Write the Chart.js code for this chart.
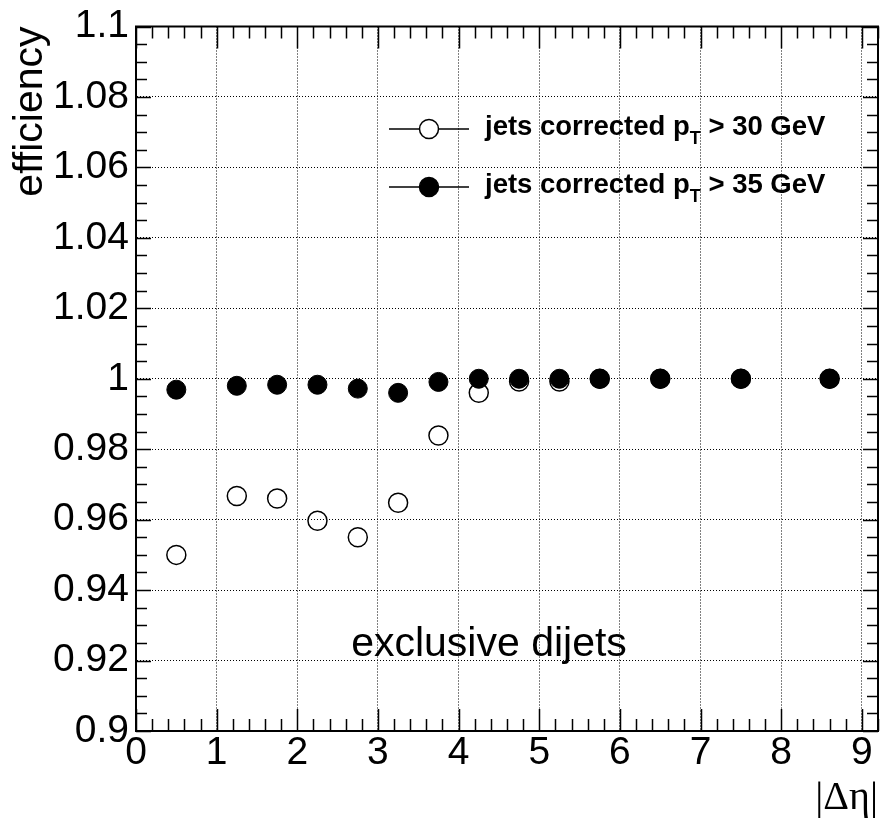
<!DOCTYPE html>
<html>
<head>
<meta charset="utf-8">
<title>Jet efficiency vs |Δη|</title>
<script src="https://cdn.jsdelivr.net/npm/chart.js@4"></script>
<style>
  html, body { margin: 0; padding: 0; background: #fff; }
  #wrap { width: 889px; height: 818px; }
</style>
</head>
<body>
<div id="wrap"><canvas id="myChart" width="889" height="818"></canvas></div>
<script>
// |Δη| bin centres and efficiencies for the two jet pT thresholds
const etaBins = [0.5, 1.25, 1.75, 2.25, 2.75, 3.25, 3.75, 4.25, 4.75, 5.25, 5.75, 6.5, 7.5, 8.6];
const effPt30 = [0.950, 0.9667, 0.966, 0.9597, 0.955, 0.9648, 0.9839, 0.996, 0.9992, 0.9992, 1.0, 1.0, 1.0, 1.0];
const effPt35 = [0.9969, 0.998, 0.9983, 0.9983, 0.9972, 0.996, 0.9991, 1.0, 1.0, 1.0, 1.0, 1.0, 1.0, 1.0];

const seriesLabels = ["jets corrected p", "jets corrected p"];
const seriesSuffix = [" > 30 GeV", " > 35 GeV"];
const xTickValues = [0, 1, 2, 3, 4, 5, 6, 7, 8, 9];
const xRange = [0, 9.2];
const yRange = [0.9, 1.1];
const annotationText = "exclusive dijets";

const SANS = "'Liberation Sans', Arial, Helvetica, sans-serif";
const SERIF = "'Liberation Serif', 'Times New Roman', serif";

function toPoints(values) {
  return etaBins.map((x, i) => ({ x: x, y: values[i] }));
}

// ROOT-style frame: box, inward major/minor ticks on all four sides
const frameTicks = {
  id: "frameTicks",
  afterDraw(chart) {
    const ctx = chart.ctx;
    const { left, right, top, bottom } = chart.chartArea;
    const xs = chart.scales.x;
    const ys = chart.scales.y;
    ctx.save();
    ctx.strokeStyle = "#000";
    ctx.lineWidth = 1.5;
    ctx.beginPath();
    for (let i = 0; i <= 46; i++) {
      const v = i * 0.2;
      if (v > xRange[1] + 1e-9) break;
      const px = Math.round(xs.getPixelForValue(v)) + 0.5;
      const len = i % 5 === 0 ? 22 : 12;
      ctx.moveTo(px, bottom);
      ctx.lineTo(px, bottom - len);
      ctx.moveTo(px, top);
      ctx.lineTo(px, top + len);
    }
    for (let i = 0; i <= 40; i++) {
      const v = yRange[0] + i * 0.005;
      const py = Math.round(ys.getPixelForValue(v)) + 0.5;
      const len = i % 4 === 0 ? 15 : 11;
      ctx.moveTo(left, py);
      ctx.lineTo(left + len, py);
      ctx.moveTo(right, py);
      ctx.lineTo(right - len, py);
    }
    ctx.stroke();
    ctx.lineWidth = 2;
    ctx.strokeRect(left, top, right - left, bottom - top);
    ctx.restore();
  },
};

// legend with subscripted pT, plus the sample label
const legendAndText = {
  id: "legendAndText",
  afterDraw(chart) {
    const ctx = chart.ctx;
    const rows = [129, 187];
    ctx.save();
    rows.forEach((y, i) => {
      ctx.strokeStyle = "#000";
      ctx.lineWidth = 1.5;
      ctx.beginPath();
      ctx.moveTo(389, y);
      ctx.lineTo(469, y);
      ctx.stroke();
      ctx.beginPath();
      ctx.arc(429, y, 9.5, 0, Math.PI * 2);
      ctx.fillStyle = i === 0 ? "#fff" : "#000";
      ctx.fill();
      ctx.stroke();

      ctx.fillStyle = "#000";
      ctx.textBaseline = "alphabetic";
      ctx.textAlign = "left";
      ctx.font = "bold 27.5px " + SANS;
      let x = 485;
      const base = y + 6;
      ctx.fillText(seriesLabels[i], x, base);
      x += ctx.measureText(seriesLabels[i]).width;
      ctx.font = "bold 18px " + SANS;
      ctx.fillText("T", x, base + 9);
      x += ctx.measureText("T").width;
      ctx.font = "bold 27.5px " + SANS;
      ctx.fillText(seriesSuffix[i], x, base);
    });
    ctx.font = "41px " + SANS;
    ctx.textAlign = "center";
    ctx.fillText(annotationText, 489, 656);
    ctx.restore();
  },
};

Chart.defaults.color = "#000";

const ctx = document.getElementById("myChart").getContext("2d");
new Chart(ctx, {
  type: "scatter",
  data: {
    datasets: [
      {
        label: seriesLabels[0] + "T" + seriesSuffix[0],
        data: toPoints(effPt30),
        pointStyle: "circle",
        pointRadius: 9.5,
        pointHoverRadius: 9.5,
        pointBorderWidth: 1.5,
        pointBorderColor: "#000",
        pointBackgroundColor: "rgba(0,0,0,0)",
        showLine: false,
        order: 1,
      },
      {
        label: seriesLabels[1] + "T" + seriesSuffix[1],
        data: toPoints(effPt35),
        pointStyle: "circle",
        pointRadius: 9.5,
        pointHoverRadius: 9.5,
        pointBorderWidth: 1,
        pointBorderColor: "#000",
        pointBackgroundColor: "#000",
        showLine: false,
        order: 0,
      },
    ],
  },
  options: {
    responsive: false,
    animation: false,
    devicePixelRatio: 1,
    layout: { padding: { top: 20, right: 3, left: 0, bottom: 0 } },
    plugins: {
      legend: { display: false },
      tooltip: { enabled: false },
    },
    scales: {
      x: {
        type: "linear",
        min: xRange[0],
        max: xRange[1],
        afterBuildTicks: (scale) => {
          scale.ticks = xTickValues.map((v) => ({ value: v }));
        },
        afterFit: (scale) => {
          scale.height = 87;
        },
        ticks: {
          autoSkip: false,
          maxRotation: 0,
          padding: 3,
          font: { family: SANS, size: 39, lineHeight: 1 },
        },
        grid: {
          color: "#000",
          lineWidth: 1,
          drawTicks: false,
        },
        border: { display: true, color: "#000", width: 2, dash: [1, 2] },
        title: {
          display: true,
          text: "|Δη|",
          align: "end",
          font: { family: SERIF, size: 40, lineHeight: 1 },
          padding: { top: 0, bottom: 0 },
        },
      },
      y: {
        type: "linear",
        min: yRange[0],
        max: yRange[1],
        afterFit: (scale) => {
          scale.width = 136;
        },
        ticks: {
          stepSize: 0.02,
          autoSkip: false,
          padding: 7,
          font: { family: SANS, size: 39, lineHeight: 1 },
          callback: (value) => String(Number(value.toFixed(2))),
        },
        grid: {
          color: "#000",
          lineWidth: 1,
          drawTicks: false,
        },
        border: { display: true, color: "#000", width: 2, dash: [1, 2] },
        title: {
          display: true,
          text: "efficiency",
          align: "end",
          font: { family: SANS, size: 41, lineHeight: 1 },
          padding: { top: 10, bottom: 0 },
        },
      },
    },
  },
  plugins: [frameTicks, legendAndText],
});
</script>
</body>
</html>
